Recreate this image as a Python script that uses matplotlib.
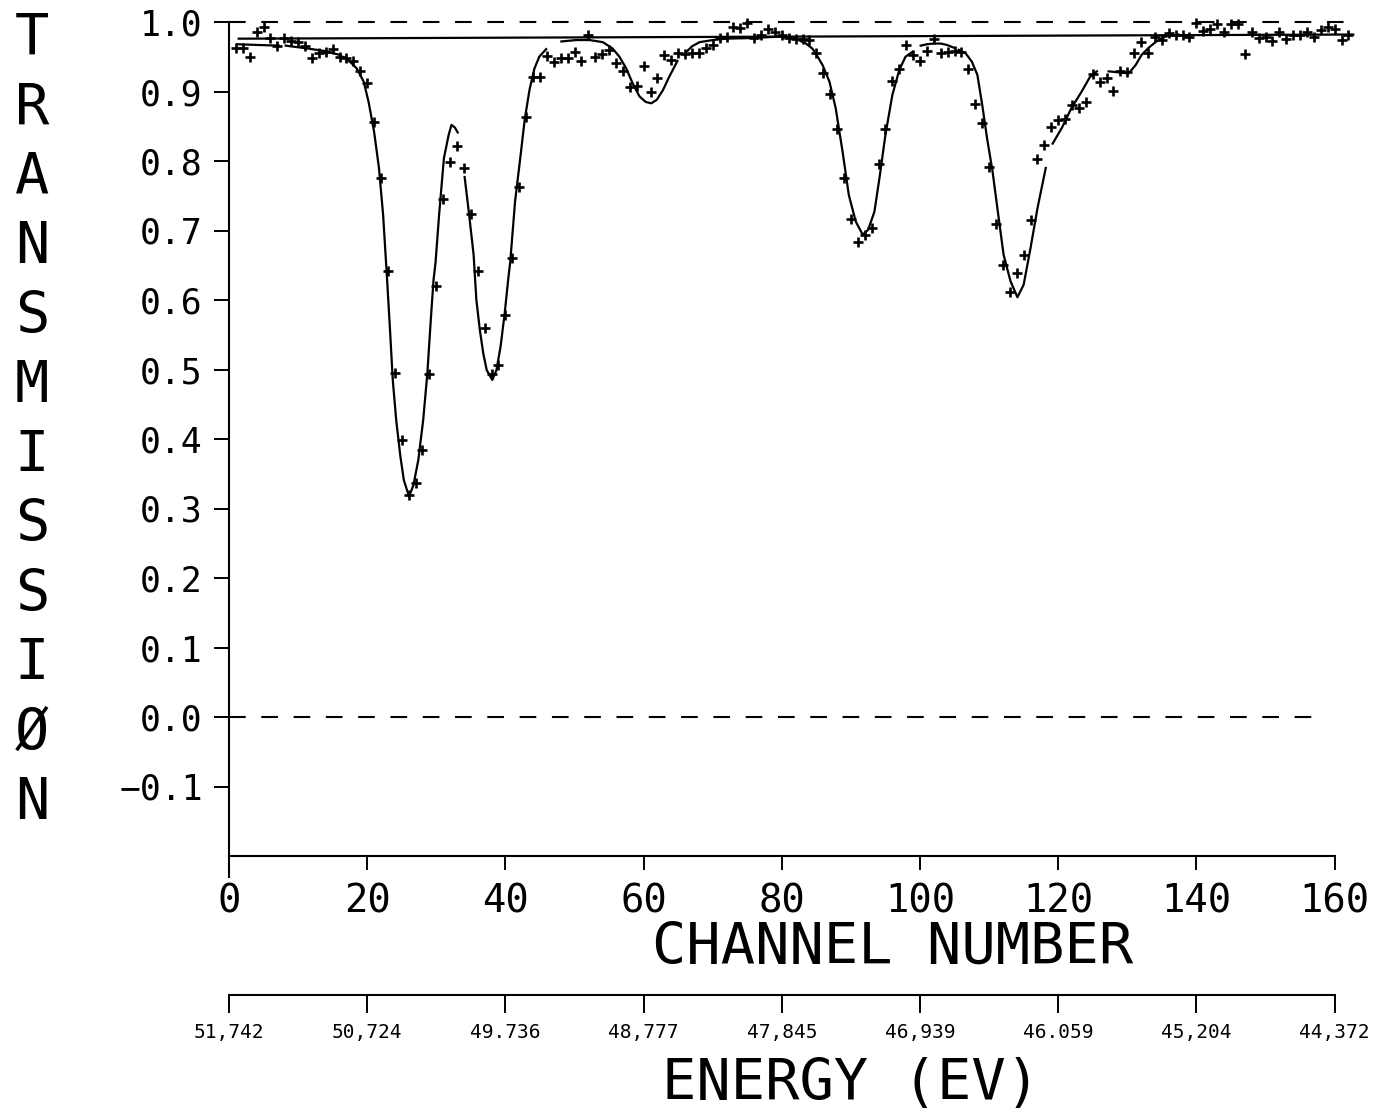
import numpy as np
import matplotlib.pyplot as plt
from matplotlib import transforms

plt.rcParams['font.family'] = ['DejaVu Sans Mono']

# measured transmission, one value per channel starting at channel 1
meas_t = [0.962, 0.962, 0.949, 0.985, 0.993, 0.977, 0.966, 0.977, 0.973, 0.971,
          0.965, 0.948, 0.955, 0.957, 0.961, 0.950, 0.948, 0.944, 0.929, 0.912,
          0.856, 0.776, 0.642, 0.495, 0.398, 0.319, 0.337, 0.384, 0.493, 0.620,
          0.746, 0.799, 0.822, 0.790, 0.724, 0.642, 0.560, 0.493, 0.507, 0.578,
          0.661, 0.763, 0.864, 0.921, 0.921, 0.951, 0.942, 0.948, 0.948, 0.957,
          0.944, 0.981, 0.950, 0.954, 0.960, 0.941, 0.929, 0.907, 0.908, 0.937,
          0.900, 0.920, 0.953, 0.945, 0.956, 0.954, 0.955, 0.956, 0.962, 0.967,
          0.977, 0.978, 0.993, 0.992, 0.999, 0.977, 0.981, 0.990, 0.985, 0.981,
          0.977, 0.976, 0.976, 0.974, 0.955, 0.926, 0.897, 0.846, 0.776, 0.717,
          0.683, 0.694, 0.703, 0.796, 0.846, 0.915, 0.932, 0.967, 0.953, 0.944,
          0.958, 0.976, 0.956, 0.957, 0.958, 0.957, 0.932, 0.882, 0.854, 0.791,
          0.709, 0.651, 0.612, 0.639, 0.665, 0.715, 0.803, 0.823, 0.849, 0.859,
          0.861, 0.881, 0.876, 0.885, 0.925, 0.913, 0.920, 0.901, 0.930, 0.928,
          0.956, 0.971, 0.956, 0.978, 0.974, 0.984, 0.981, 0.981, 0.979, 0.998,
          0.987, 0.990, 0.997, 0.986, 0.997, 0.997, 0.954, 0.986, 0.977, 0.978,
          0.972, 0.985, 0.976, 0.981, 0.981, 0.986, 0.978, 0.989, 0.993, 0.990,
          0.974, 0.982]
meas_ch = np.arange(1, len(meas_t) + 1)

# fitted curve, drawn in pieces
fit_a0_ch = [1.2, 4.0, 7.2]
fit_a0_t = [0.968, 0.967, 0.966]
fit_a_ch = [8.2, 11.3, 14.0, 15.9, 17.3, 18.5, 19.5, 20.2, 21.0, 21.7, 22.3, 22.9,
            23.3, 23.7, 24.2, 24.8, 25.3, 26.06, 26.7, 27.4, 28.1, 28.7, 29.2,
            29.6, 29.9, 30.4, 31.1, 31.8, 32.2, 32.7, 33.1]
fit_a_t = [0.966, 0.962, 0.958, 0.953, 0.945, 0.933, 0.914, 0.885, 0.842, 0.790,
           0.723, 0.626, 0.557, 0.485, 0.427, 0.375, 0.341, 0.317, 0.334, 0.370,
           0.427, 0.494, 0.571, 0.629, 0.655, 0.722, 0.804, 0.838, 0.852, 0.848,
           0.841]
fit_b_ch = [34.1, 34.7, 35.4, 35.8, 36.3, 36.8, 37.3, 38.1, 38.7, 39.3, 39.9,
            40.4, 40.7, 41.4, 42.1, 42.8, 43.5, 44.2, 44.9, 45.9]
fit_b_t = [0.777, 0.727, 0.665, 0.600, 0.557, 0.523, 0.499, 0.485, 0.499, 0.533,
           0.581, 0.629, 0.655, 0.742, 0.800, 0.860, 0.903, 0.933, 0.950, 0.961]
fit_c_ch = [48.1, 50.2, 52.2, 54.1, 55.5, 56.5, 57.5, 58.4, 59.4, 60.3, 61.1,
            61.9, 62.8, 63.7, 64.9]
fit_c_t = [0.972, 0.974, 0.974, 0.971, 0.962, 0.950, 0.933, 0.912, 0.893, 0.885,
           0.883, 0.888, 0.902, 0.921, 0.944]
fit_d_ch = [65.9, 66.3, 67.0, 68.1, 70.0, 71.9, 75.8, 79.6, 82.0, 83.5, 84.4,
            84.9, 85.9, 86.9, 87.8, 88.8, 89.7, 90.7, 91.7, 92.5, 93.4, 94.2,
            95.0, 96.0, 97.0, 97.9, 98.9]
fit_d_t = [0.953, 0.958, 0.965, 0.971, 0.974, 0.976, 0.977, 0.979, 0.976, 0.969,
           0.962, 0.955, 0.938, 0.914, 0.876, 0.813, 0.751, 0.713, 0.694, 0.701,
           0.727, 0.780, 0.838, 0.895, 0.931, 0.950, 0.957]
fit_e_ch = [100.1, 101.0, 102.0, 103.0, 103.9, 104.9]
fit_e_t = [0.966, 0.968, 0.969, 0.969, 0.967, 0.963]
fit_f_ch = [105.6, 106.6, 107.5, 108.3, 109.0, 109.7, 110.5, 111.2, 112.1,
            113.1, 114.1, 115.0, 116.0, 117.0, 118.2]
fit_f_t = [0.960, 0.955, 0.943, 0.924, 0.881, 0.833, 0.785, 0.732, 0.665, 0.627,
           0.604, 0.622, 0.675, 0.732, 0.790]
fit_g_ch = [119.2, 120.6, 121.9, 123.4, 124.6, 125.6]
fit_g_t = [0.825, 0.849, 0.876, 0.900, 0.921, 0.929]
fit_h_ch = [127.3, 130.2, 131.2, 132.1, 133.1, 134.2, 135.5, 137.4]
fit_h_t = [0.929, 0.926, 0.938, 0.953, 0.963, 0.972, 0.979, 0.982]

# baseline and reference levels
base_ch = [1.4, 162.7]
base_t = [0.976, 0.982]
ref_levels = [1.0, 0.0]
ref_ends = [162.7, 158.6]

chan_ticks = [0, 20, 40, 60, 80, 100, 120, 140, 160]
chan_labels = ['0', '20', '40', '60', '80', '100', '120', '140', '160']
energy_labels = ['51,742', '50,724', '49.736', '48,777', '47,845',
                 '46,939', '46.059', '45,204', '44,372']
t_ticks = [-0.1, 0.0, 0.1, 0.2, 0.3, 0.4, 0.5, 0.6, 0.7, 0.8, 0.9, 1.0]
t_labels = ['\u22120.1', '0.0', '0.1', '0.2', '0.3', '0.4', '0.5', '0.6',
            '0.7', '0.8', '0.9', '1.0']
ylabel_letters = list('TRANSMISSIØN')

W, H = 1384, 1117
fig = plt.figure(figsize=(W / 100, H / 100), dpi=100)
ax = fig.add_axes([229 / W, (H - 856) / H, 1155 / W, 841 / H])
ax.set_xlim(0, 1155 / 6.91)
ax.set_ylim(-0.2, -0.2 + 841 / 695)

lw = 1.6
for yv, xe in zip(ref_levels, ref_ends):
    ax.plot([0, xe], [yv, yv], color='black', lw=1.5, linestyle=(0, (8, 7.5)))
ax.plot(base_ch, base_t, color='black', lw=lw)

for cx, cy in [(fit_a0_ch, fit_a0_t), (fit_a_ch, fit_a_t), (fit_b_ch, fit_b_t),
               (fit_c_ch, fit_c_t), (fit_d_ch, fit_d_t), (fit_e_ch, fit_e_t),
               (fit_f_ch, fit_f_t), (fit_g_ch, fit_g_t), (fit_h_ch, fit_h_t)]:
    ax.plot(cx, cy, color='black', lw=lw, solid_joinstyle='round')

ax.plot(meas_ch, meas_t, linestyle='none', marker='+', ms=7, mew=1.9,
        color='black')

for s in ['top', 'right']:
    ax.spines[s].set_visible(False)
ax.spines['left'].set_bounds(-0.23, 1.0)
ax.spines['bottom'].set_bounds(0, 160)
for s in ['left', 'bottom']:
    ax.spines[s].set_linewidth(1.5)

ax.set_xticks(chan_ticks)
ax.set_xticklabels(chan_labels)
ax.set_yticks(t_ticks)
ax.set_yticklabels(t_labels)
ax.tick_params(axis='x', direction='out', length=10, width=1.4, pad=9,
               labelsize=28)
ax.tick_params(axis='y', direction='out', length=11, width=1.4, pad=8,
               labelsize=25)

fig.text(893 / W, 1 - 948 / H, 'CHANNEL NUMBER', ha='center', va='center',
         fontsize=41)

# energy scale below channel axis
eax = fig.add_axes([229 / W, 1 - 995 / H, 1155 / W, 0.0001])
eax.set_xlim(ax.get_xlim())
eax.set_yticks([])
for s in ['top', 'left', 'right']:
    eax.spines[s].set_visible(False)
eax.spines['bottom'].set_bounds(0, 160)
eax.spines['bottom'].set_linewidth(1.5)
eax.set_xticks(chan_ticks)
eax.set_xticklabels(energy_labels)
eax.tick_params(axis='x', direction='out', length=13, width=1.4, pad=7,
                labelsize=14)
eax.patch.set_visible(False)

fig.text(851 / W, 1 - 1085 / H, 'ENERGY (EV)', ha='center', va='center',
         fontsize=41)

# vertical stacked axis title, one letter per tenth of transmission
trans = transforms.blended_transform_factory(fig.transFigure, ax.transData)
for i, ch in enumerate(ylabel_letters):
    fig.text(32 / W, 0.975 - 0.1 * i, ch, transform=trans, ha='center',
             va='center', fontsize=41)

fig.savefig('out.png', dpi=100)
